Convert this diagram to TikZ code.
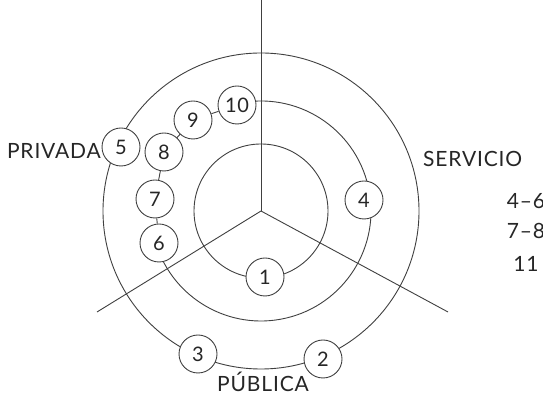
\documentclass[tikz,border=0pt]{standalone}
\usepackage{fontspec}
\setmainfont{Lato}[LetterSpace=4]
\usetikzlibrary{backgrounds}
\begin{document}
\begin{tikzpicture}[x=1pt,y=1pt,
  ln/.style={draw=black!75, line width=0.9pt},
  num/.style={circle, draw=black!75, line width=0.9pt, fill=white, minimum size=38pt, inner sep=0pt, font=\fontsize{20}{20}\selectfont, text=black!85},
  lbl/.style={inner sep=0pt, font=\fontsize{21}{21}\selectfont, text=black!85}]
\useasboundingbox (0,0) rectangle (543,395);
% centre and line ends
\coordinate (c) at (261,184);
\coordinate (top) at (261,395);
\coordinate (lend) at (97,83);
\coordinate (rend) at (448,83);
% nodes
\node[num] (n1) at (265,118) {1};
\node[num] (n2) at (323,36) {2};
\node[num] (n3) at (198,41) {3};
\node[num] (n4) at (364,195) {4};
\node[num] (n5) at (121,248) {5};
\node[num] (n6) at (159,152) {6};
\node[num] (n7) at (155,196) {7};
\node[num] (n8) at (164,243) {8};
\node[num] (n9) at (193,275) {9};
\node[num] (n10) at (237,290) {10};
% labels
\node[lbl, anchor=base east] (privada) at (101,236) {PRIVADA};
\node[lbl, anchor=base west] (servicio) at (423,228) {SERVICIO};
\node[lbl, anchor=base] (publica) at (263,3) {PÚBLICA};
\node[lbl, anchor=base] (t46) at (526,186) {4–6};
\node[lbl, anchor=base] (t78) at (526,156) {7–8};
\node[lbl, anchor=base] (t11) at (526,123) {11};
% connectors
\draw[ln] (n6) -- (n7);
\draw[ln] (n7) -- (n8);
\draw[ln] (n8) -- (n9);
\draw[ln] (n9) -- (n10);
\begin{scope}[on background layer]
\fill[white] (0,0) rectangle (543,395);
\draw[ln] (c) -- (top);
\draw[ln] (c) -- (lend);
\draw[ln] (c) -- (rend);
\draw[ln] (c) circle[radius=67];
\draw[ln] (c) circle[radius=158];
\draw[ln] (c) ++(102.8:110) arc[start angle=102.8, end angle=-162.6, radius=110];
\end{scope}
\end{tikzpicture}
\end{document}
